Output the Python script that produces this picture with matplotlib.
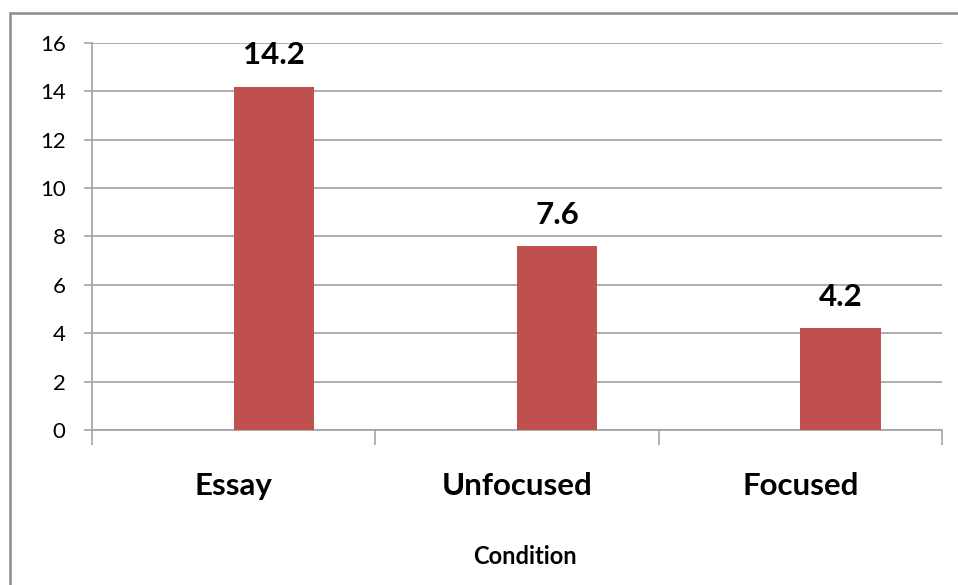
import matplotlib.pyplot as plt
import numpy as np
from matplotlib.patches import Rectangle

conditions = ["Essay", "Unfocused", "Focused"]
scores = [14.2, 7.6, 4.2]
y_ticks = [0, 2, 4, 6, 8, 10, 12, 14, 16]

plt.rcParams["font.family"] = ["Lato", "DejaVu Sans"]

fig = plt.figure(figsize=(9.58, 5.85), dpi=100)
ax = fig.add_axes([0.0960, 0.2650, 0.8873, 0.6615])

# outer chart frame (runs off the right and bottom edges)
fig.patches.append(Rectangle((10 / 958, -0.1), 1.2, 0.1 + 1 - 13 / 585,
                             transform=fig.transFigure, fill=False,
                             edgecolor="#8c8c8c", lw=1.8, zorder=0))

x = np.arange(len(conditions))
width = 0.283
bars = ax.bar(x + width / 2, scores, width=width, color="#C0504D", zorder=3)

for b, v in zip(bars, scores):
    ax.text(b.get_x() + b.get_width() / 2, v + 1.3, f"{v:.1f}",
            ha="center", va="center", fontsize=22.5, fontweight="bold")

ax.set_xlim(-0.5, len(conditions) - 0.5)
ax.set_ylim(0, 16)
ax.set_yticks(y_ticks)
ax.yaxis.grid(True, color="#a6a6a6", lw=1.3, zorder=0)
ax.tick_params(axis="y", length=6, width=1.2, color="#a6a6a6",
               labelsize=16, pad=13)

ax.set_xticks(np.arange(-0.5, len(conditions)), labels=[""] * (len(conditions) + 1))
ax.set_xticks(x, labels=conditions, minor=True)
ax.tick_params(axis="x", which="major", length=11, width=1.2, color="#a6a6a6")
ax.tick_params(axis="x", which="minor", length=0, labelsize=22.5, pad=40)
for lbl in ax.get_xticklabels(minor=True):
    lbl.set_fontweight("bold")
    lbl.set_verticalalignment("center")

for side in ("top", "right"):
    ax.spines[side].set_visible(False)
for side in ("left", "bottom"):
    ax.spines[side].set_color("#a6a6a6")
    ax.spines[side].set_linewidth(1.3)

fig.text(0.5475, 1 - 557 / 585, "Condition", ha="center", va="center",
         fontsize=17, fontweight="bold")

fig.savefig("out.png", dpi=100)
